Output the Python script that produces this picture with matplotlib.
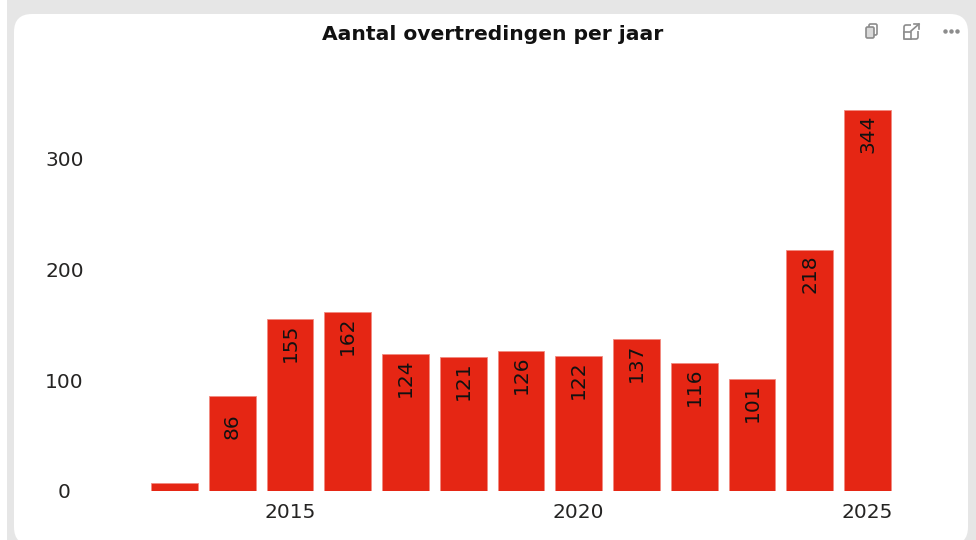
import matplotlib
matplotlib.use("Agg")
import matplotlib.pyplot as plt
from matplotlib.patches import FancyBboxPatch, Rectangle

W, H = 976, 540

years = [2013, 2014, 2015, 2016, 2017, 2018, 2019, 2020, 2021, 2022, 2023, 2024, 2025]
counts = [7, 86, 155, 162, 124, 121, 126, 122, 137, 116, 101, 218, 344]
bar_labels = ["", "86", "155", "162", "124", "121", "126", "122", "137", "116", "101", "218", "344"]
x_ticks = [2015, 2020, 2025]
y_ticks = [0, 100, 200, 300]

RED = "#e52614"
TEXT = "#252423"

fig = plt.figure(figsize=(W / 100, H / 100), dpi=100, facecolor="#e6e6e6")

# background card, in pixel coordinates
bg = fig.add_axes([0, 0, 1, 1])
bg.set_xlim(0, W)
bg.set_ylim(H, 0)
bg.axis("off")
bg.add_patch(Rectangle((0, 0), 7, H, fc="white", ec="none"))
bg.add_patch(FancyBboxPatch((14, 14), 954, 531, boxstyle="round,pad=0,rounding_size=18",
                            fc="white", ec="none"))

# small header icons
grey = "#8c8c8c"
bg.add_patch(FancyBboxPatch((869, 24), 8, 11, boxstyle="round,pad=0,rounding_size=1.5",
                            fc="white", ec=grey, lw=1.2))
bg.add_patch(FancyBboxPatch((866, 27), 8, 11, boxstyle="round,pad=0,rounding_size=1.5",
                            fc="#d9d9d9", ec=grey, lw=1.2))
bg.add_patch(FancyBboxPatch((904, 25), 14, 14, boxstyle="round,pad=0,rounding_size=2",
                            fc="white", ec=grey, lw=1.2))
bg.add_patch(Rectangle((911, 22), 9, 9, fc="white", ec="none"))
bg.add_patch(Rectangle((904, 32), 7, 7, fc="white", ec=grey, lw=1.2))
bg.plot([911, 919], [31, 24], color=grey, lw=1.2)
bg.plot([914, 919, 919], [24, 24, 29], color=grey, lw=1.2)
bg.plot([945, 951, 957], [31, 31, 31], ls="none", marker="o", ms=2.2, color=grey)

left, right, top, bottom = 120, 900, 60, 491
ax = fig.add_axes([left / W, 1 - bottom / H, (right - left) / W, (bottom - top) / H])
ax.patch.set_alpha(0)

bars = ax.bar(years, counts, width=0.81, color=RED, edgecolor="#f28a80", linewidth=0.6)
ax.bar_label(bars, labels=bar_labels, rotation=90, padding=-31, fontsize=14.5, color="#111111")

ax.set_xlim(2013 - (174.5 - left) / 57.75, 2013 + (right - 174.5) / 57.75)
ax.set_ylim(0, (bottom - top) / 1.1076)
ax.set_xticks(x_ticks)
ax.set_yticks(y_ticks)
ax.tick_params(length=0, labelsize=14.5, labelcolor=TEXT)
ax.tick_params(axis="x", pad=9)
ax.tick_params(axis="y", pad=40)
for lab in ax.get_yticklabels():
    lab.set_ha("center")
for s in ax.spines.values():
    s.set_visible(False)

bg.text(493, 34, "Aantal overtredingen per jaar", ha="center", va="center",
        fontsize=14.6, fontweight="bold", color="#111111")

fig.savefig("out.png", dpi=100, facecolor=fig.get_facecolor())
